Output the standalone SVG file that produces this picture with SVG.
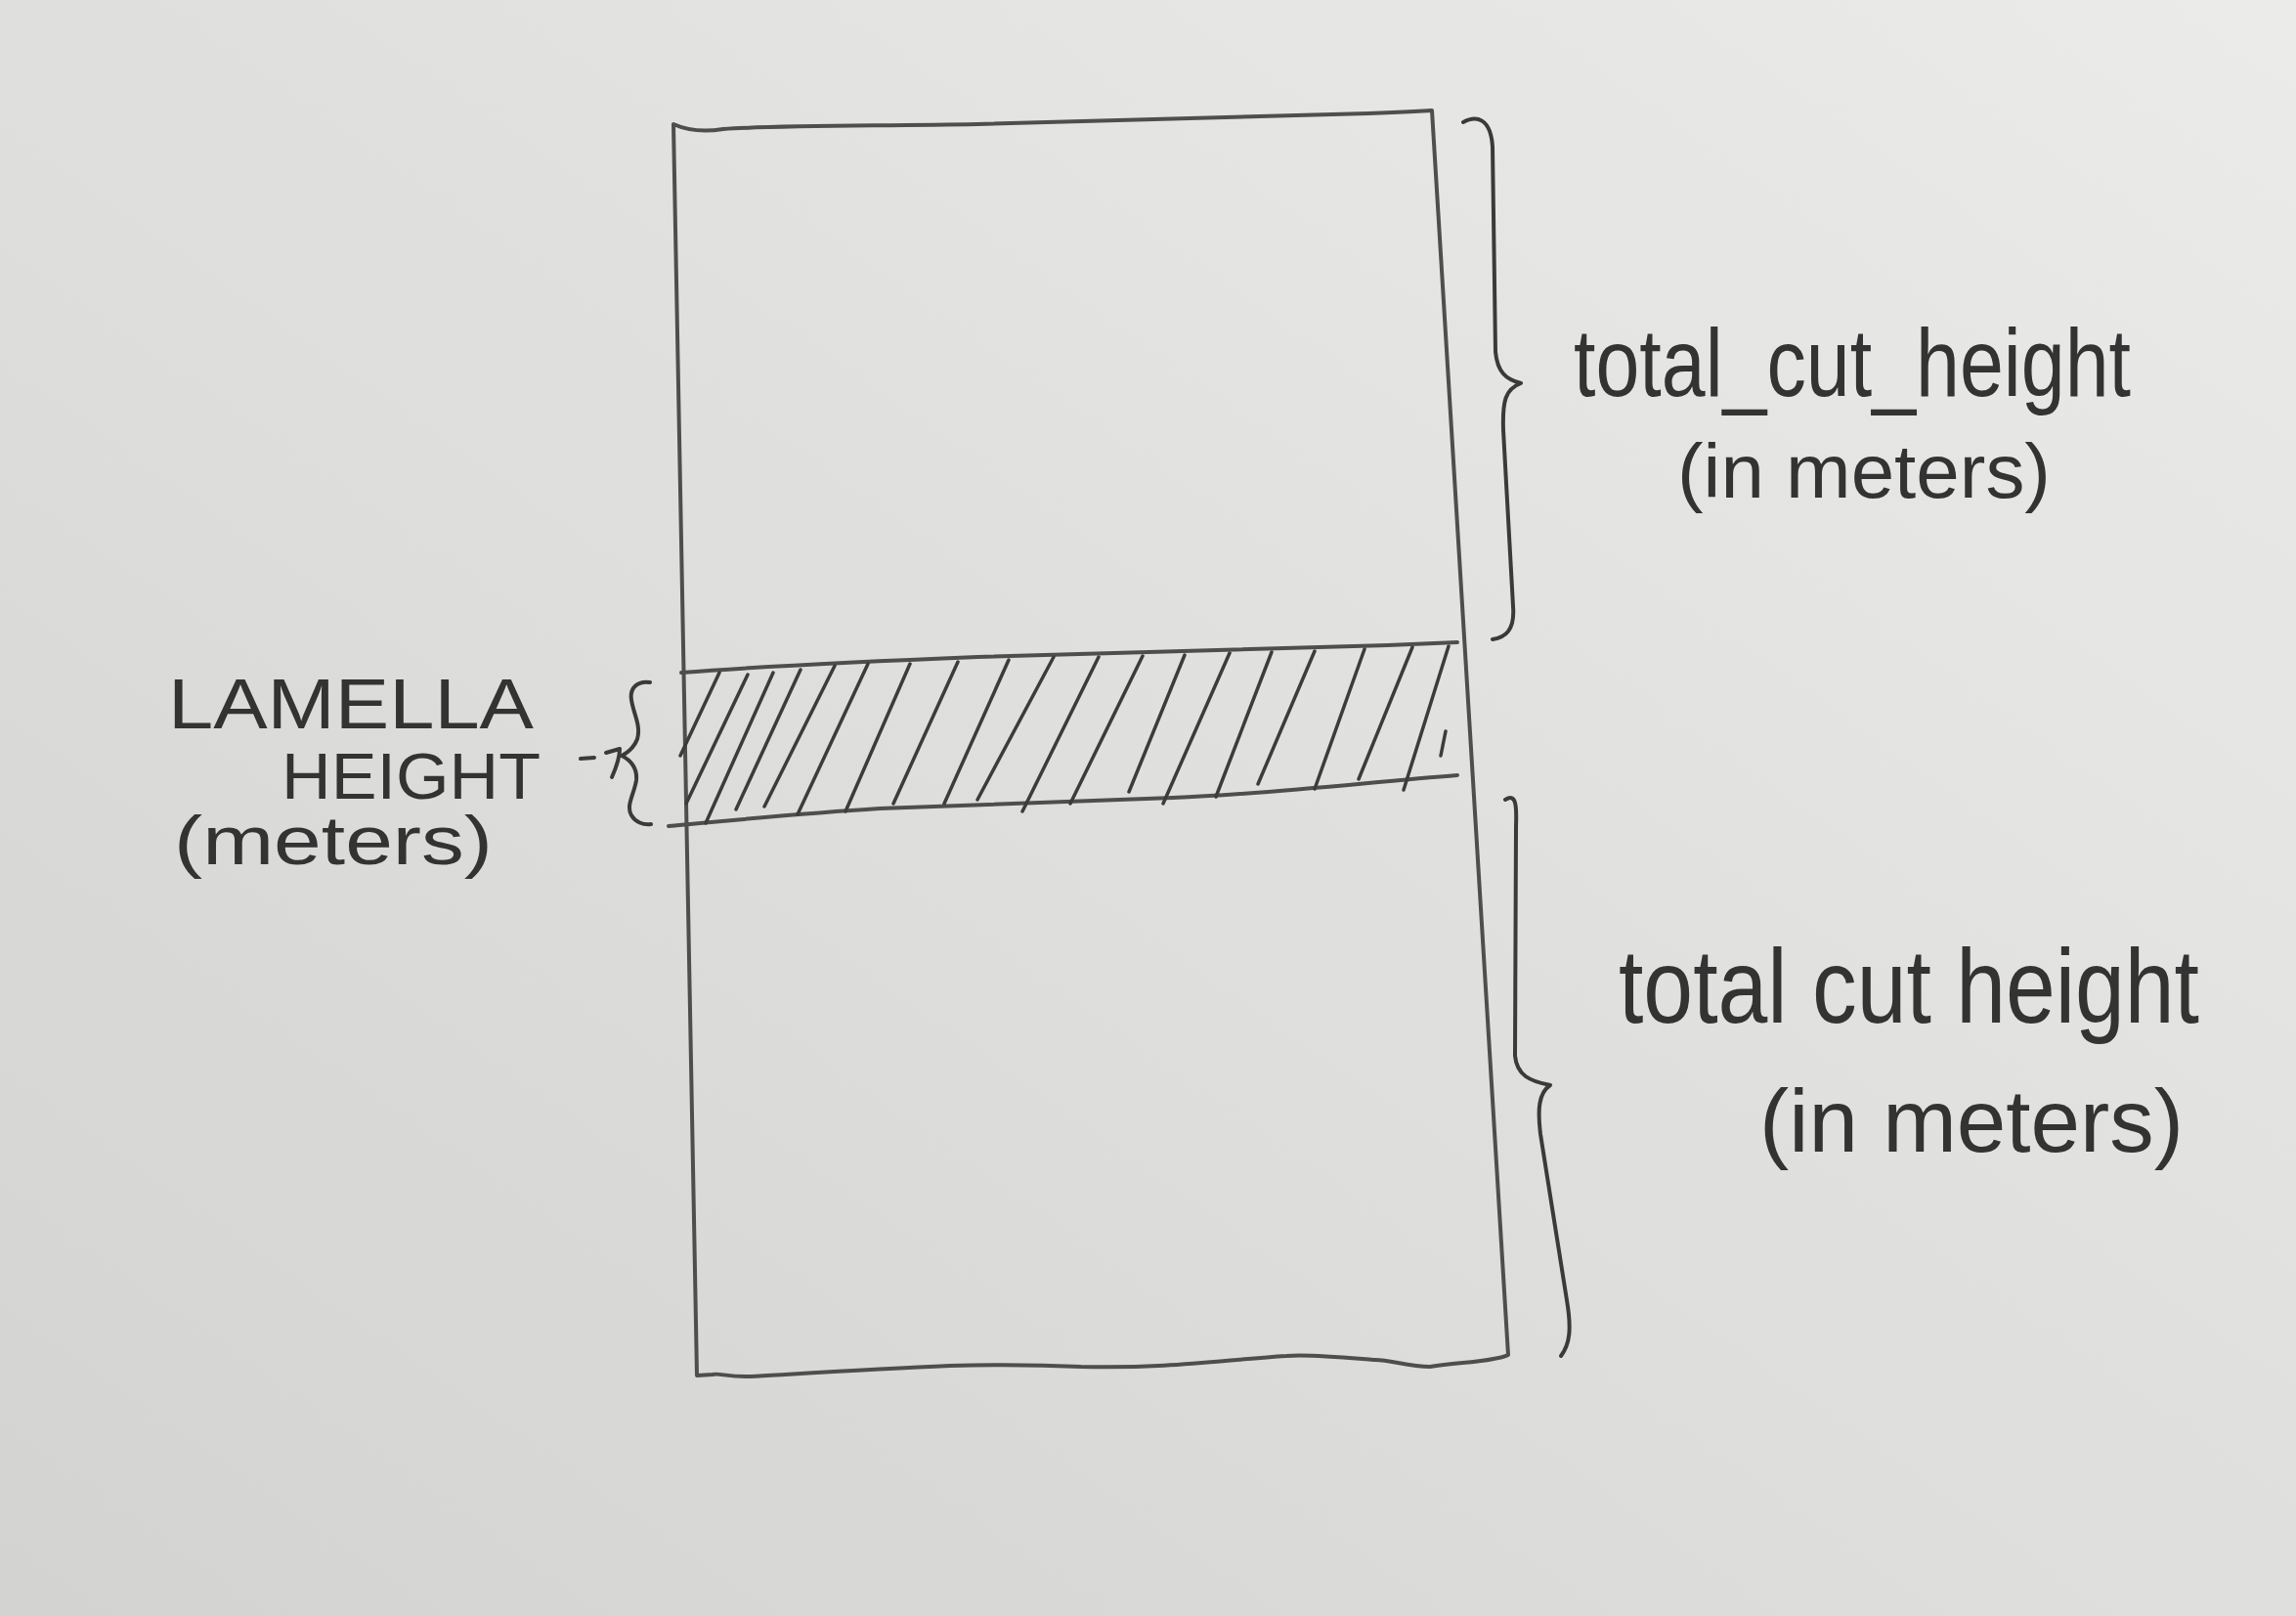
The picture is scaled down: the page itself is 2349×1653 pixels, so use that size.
<svg xmlns="http://www.w3.org/2000/svg" width="2349" height="1653" viewBox="0 0 2349 1653">
<defs>
<linearGradient id="paper" x1="0" y1="1" x2="1" y2="0">
<stop offset="0" stop-color="#d3d3d1"/>
<stop offset="0.5" stop-color="#dfdfdd"/>
<stop offset="1" stop-color="#ebebe9"/>
</linearGradient>
<style>
.ln{fill:none;stroke:#4e4e4e;stroke-width:4;stroke-linecap:round;stroke-linejoin:round}
.hatch{fill:none;stroke:#3c3c3c;stroke-width:3.5;stroke-linecap:round}
.brace{fill:none;stroke:#3a3a3a;stroke-width:4;stroke-linecap:round;stroke-linejoin:round}
.lbl{font-family:"Liberation Sans","DejaVu Sans",sans-serif;fill:#333;}
</style>
</defs>
<rect width="2349" height="1653" fill="url(#paper)"/>

<g id="column">
<path class="ln" d="M689,127 C700,132 715,136 740,132 C800,128 900,129 1000,127 C1150,124 1300,119 1400,116 C1430,115 1450,114 1465,113 L1543,1386 C1530,1392 1500,1393 1463,1398 C1440,1398 1420,1390 1405,1391 C1380,1389 1340,1385 1316,1387 C1250,1391 1200,1400 1106,1398 C1060,1396 1010,1396 972,1397 C900,1400 820,1405 768,1408 C745,1409 735,1404 729,1406 L713,1407 Z"/>
</g>

<g id="lamella">
<path class="ln" d="M697,688 C800,680 900,676 1000,672 C1150,667 1300,663 1420,660 L1491,657"/>
<path class="ln" d="M684,845 C760,838 820,832 900,827 C1000,824 1100,820 1200,816 C1300,812 1400,800 1491,793"/>
<g class="hatch">
<line x1="696" y1="773" x2="736" y2="688"/>
<line x1="702" y1="822" x2="765" y2="690"/>
<line x1="722" y1="842" x2="791" y2="688"/>
<line x1="753" y1="828" x2="819" y2="685"/>
<line x1="782" y1="825" x2="854" y2="681"/>
<line x1="816" y1="833" x2="888" y2="679"/>
<line x1="865" y1="830" x2="931" y2="679"/>
<line x1="914" y1="822" x2="980" y2="677"/>
<line x1="966" y1="822" x2="1032" y2="675"/>
<line x1="1000" y1="818" x2="1078" y2="672"/>
<line x1="1046" y1="830" x2="1124" y2="672"/>
<line x1="1095" y1="822" x2="1169" y2="671"/>
<line x1="1155" y1="810" x2="1212" y2="670"/>
<line x1="1190" y1="822" x2="1258" y2="668"/>
<line x1="1244" y1="815" x2="1301" y2="667"/>
<line x1="1287" y1="802" x2="1345" y2="666"/>
<line x1="1345" y1="807" x2="1396" y2="664"/>
<line x1="1390" y1="797" x2="1445" y2="662"/>
<line x1="1436" y1="808" x2="1482" y2="661"/>
<line x1="1474" y1="773" x2="1479" y2="748"/>
</g>
</g>

<g id="connectors">
<path id="brace-top" class="brace" d="M1497,125 C1510,118 1525,120 1527,150 L1530,360 C1532,380 1540,388 1556,392 C1540,398 1537,410 1538,440 L1548,620 C1550,645 1540,652 1527,654"/>
<path id="brace-bottom" class="brace" d="M1540,818 C1550,812 1552,820 1551,845 L1550,1080 C1552,1100 1565,1106 1586,1110 C1574,1118 1573,1135 1576,1160 L1603,1330 C1608,1360 1606,1375 1597,1387"/>
<path id="brace-lamella" class="brace" d="M665,698 C652,696 644,704 646,716 C648,730 656,742 652,756 C648,766 642,770 636,773 C646,778 652,786 651,798 C649,812 640,824 646,834 C650,841 658,844 666,843"/>
<path id="lamella-pointer" class="brace" d="M594,776 L608,775 M620,770 L634,766 C634,776 630,786 626,795"/>
</g>

<g id="label-lamella">
<text class="lbl" x="172" y="745" font-size="72" textLength="374" lengthAdjust="spacingAndGlyphs">LAMELLA</text>
<text class="lbl" x="288" y="817" font-size="66" textLength="265" lengthAdjust="spacingAndGlyphs">HEIGHT</text>
<text class="lbl" x="178" y="884" font-size="70" textLength="326" lengthAdjust="spacingAndGlyphs">(meters)</text>
</g>

<g id="label-top">
<text class="lbl" x="1610" y="405" font-size="98" textLength="570" lengthAdjust="spacingAndGlyphs">total_cut_height</text>
<text class="lbl" x="1716" y="509" font-size="78" textLength="382" lengthAdjust="spacingAndGlyphs">(in meters)</text>
</g>

<g id="label-bottom">
<text class="lbl" x="1656" y="1046" font-size="108" textLength="594" lengthAdjust="spacingAndGlyphs">total cut height</text>
<text class="lbl" x="1800" y="1178" font-size="90" textLength="434" lengthAdjust="spacingAndGlyphs">(in meters)</text>
</g>
</svg>
